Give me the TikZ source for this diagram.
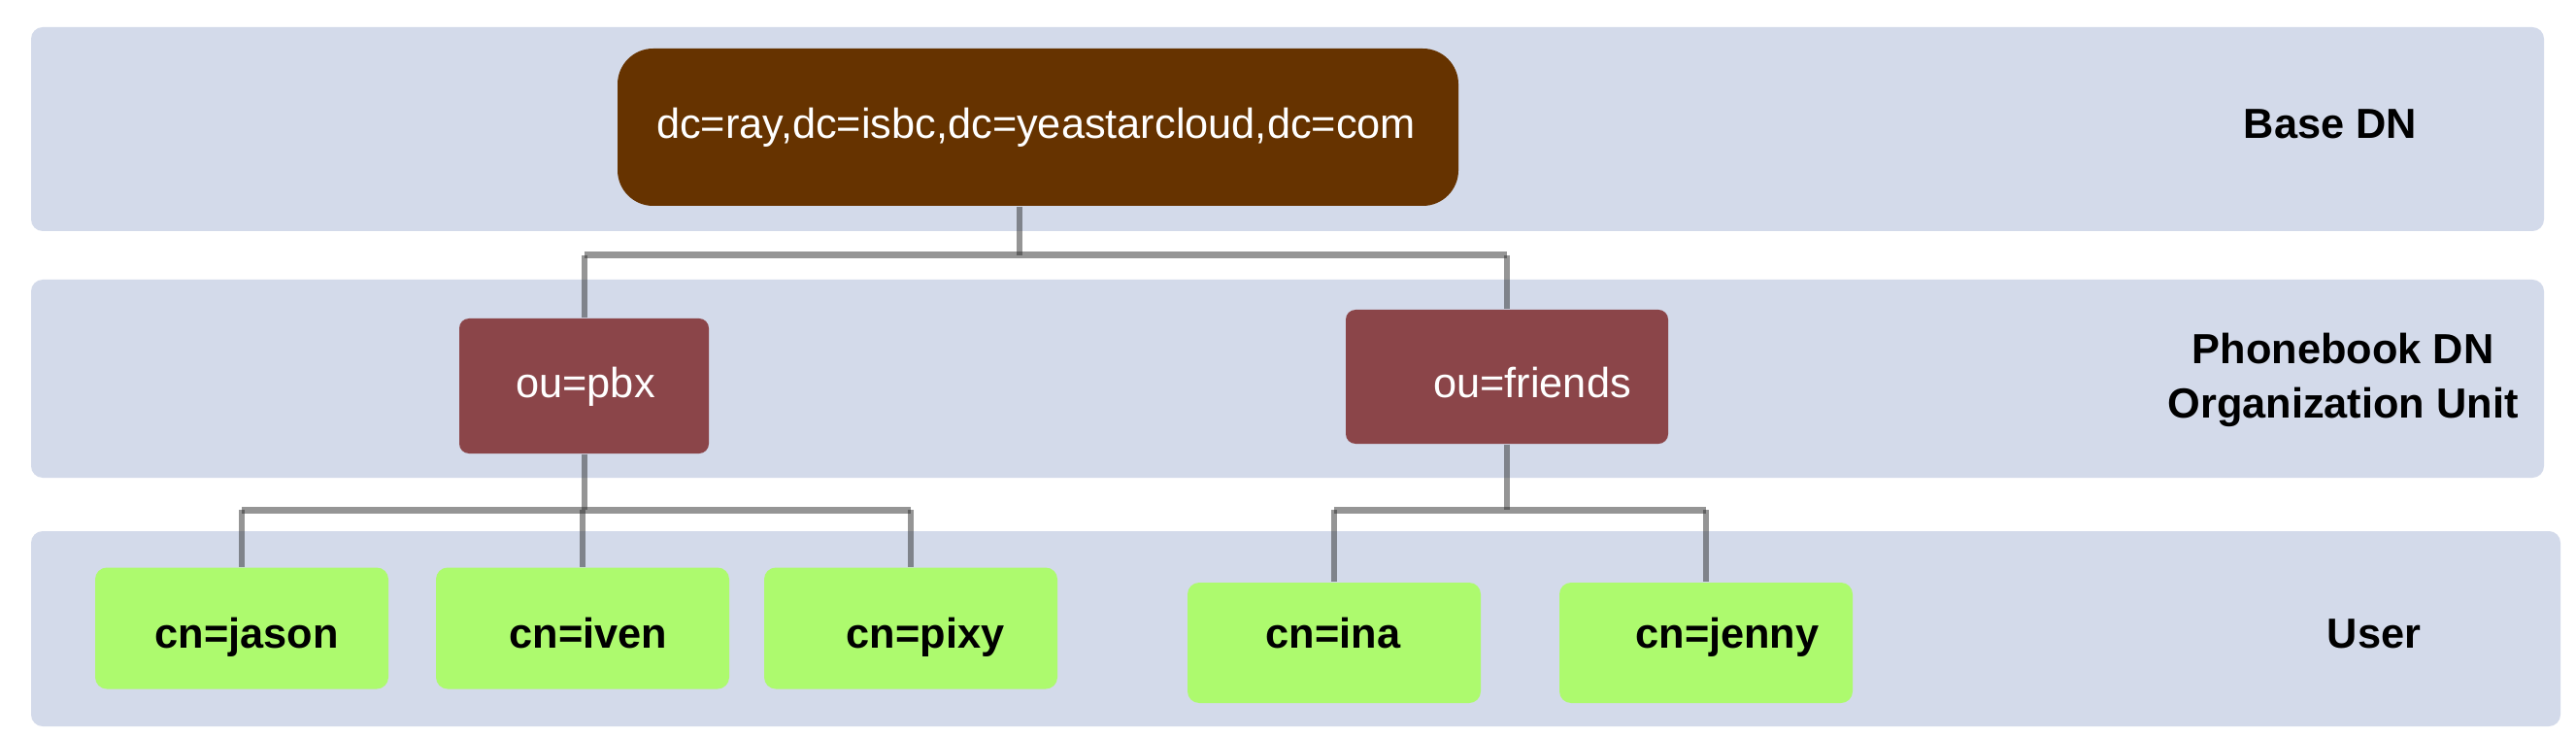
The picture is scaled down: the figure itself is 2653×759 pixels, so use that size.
\documentclass[tikz,border=0pt]{standalone}
\usepackage{fontspec}
\setmainfont{Liberation Sans}
\definecolor{bandc}{RGB}{211,218,234}
\definecolor{brownc}{RGB}{102,51,0}
\definecolor{maroonc}{RGB}{139,69,73}
\definecolor{greenc}{RGB}{173,250,110}
\definecolor{linec}{RGB}{45,45,45}
\begin{document}
\begin{tikzpicture}[x=0.3pt,y=-0.3pt,
  band/.style={fill=bandc, rounded corners=3.6pt},
  basebox/.style={fill=brownc, rounded corners=11pt, inner sep=0pt,
    minimum width=866*0.3pt, minimum height=162*0.3pt},
  oubox/.style={fill=maroonc, rounded corners=3pt, inner sep=0pt},
  cnbox/.style={fill=greenc, rounded corners=3.6pt, inner sep=0pt,
    minimum width=302*0.3pt, minimum height=125*0.3pt},
  wtxt/.style={text=white, font=\fontsize{13}{15}\selectfont, anchor=base, inner sep=0pt},
  btxt/.style={text=black, font=\fontsize{13}{15}\selectfont\bfseries, anchor=base, inner sep=0pt},
  conn/.style={draw=linec, draw opacity=0.5, line width=1.8pt},
  barline/.style={draw=linec, draw opacity=0.5, line width=2.1pt}]
\useasboundingbox (0,0) rectangle (2653,759);
\fill[white] (0,0) rectangle (2653,759);
% bands
\fill[band] (32,28) rectangle (2620,238);
\fill[band] (32,288) rectangle (2620,492);
\fill[band] (32,547) rectangle (2637,748);
% boxes
\node[basebox] (base) at (1069,131) {};
\node[oubox, minimum width=257*0.3pt, minimum height=139*0.3pt] (pbx) at (601.5,397.5) {};
\node[oubox, minimum width=332*0.3pt, minimum height=138*0.3pt] (friends) at (1552,388) {};
\node[cnbox] (jason) at (249,647) {};
\node[cnbox] (iven) at (600,647) {};
\node[cnbox] (pixy) at (938,647) {};
\node[cnbox, minimum height=124*0.3pt] (ina) at (1374,662) {};
\node[cnbox, minimum height=124*0.3pt] (jenny) at (1757,662) {};
% texts
\node[wtxt] (base-t) at (1067,143) {dc=ray,dc=isbc,dc=yeastarcloud,dc=com};
\node[wtxt] (pbx-t) at (603,410) {ou=pbx};
\node[wtxt] (friends-t) at (1578,410) {ou=friends};
\node[btxt] (jason-t) at (254,667) {cn=jason};
\node[btxt] (iven-t) at (606,667) {cn=iven};
\node[btxt] (pixy-t) at (953,667) {cn=pixy};
\node[btxt] (ina-t) at (1373,667) {cn=ina};
\node[btxt] (jenny-t) at (1779,667) {cn=jenny};
\node[btxt] (lab1) at (2400,143) {Base DN};
\node[btxt] (lab2a) at (2413,375) {Phonebook DN};
\node[btxt] (lab2b) at (2413,430) {Organization Unit};
\node[btxt] (lab3) at (2445,667) {User};
% connectors
\coordinate (j1) at (1050,263);
\coordinate (j2) at (603,525);
\coordinate (j3) at (1552,525);
\draw[conn] (base.south -| j1) -- (j1);
\draw[barline] (pbx.north |- j1) -- (friends.north |- j1);
\draw[conn] (pbx.north |- j1) -- (pbx.north);
\draw[conn] (friends.north |- j1) -- (friends.north);
\draw[conn] (pbx.south) -- (pbx.south |- j2);
\draw[barline] (jason.north |- j2) -- (pixy.north |- j2);
\draw[conn] (jason.north |- j2) -- (jason.north);
\draw[conn] (iven.north |- j2) -- (iven.north);
\draw[conn] (pixy.north |- j2) -- (pixy.north);
\draw[conn] (friends.south) -- (friends.south |- j3);
\draw[barline] (ina.north |- j3) -- (jenny.north |- j3);
\draw[conn] (ina.north |- j3) -- (ina.north);
\draw[conn] (jenny.north |- j3) -- (jenny.north);
\end{tikzpicture}
\end{document}
